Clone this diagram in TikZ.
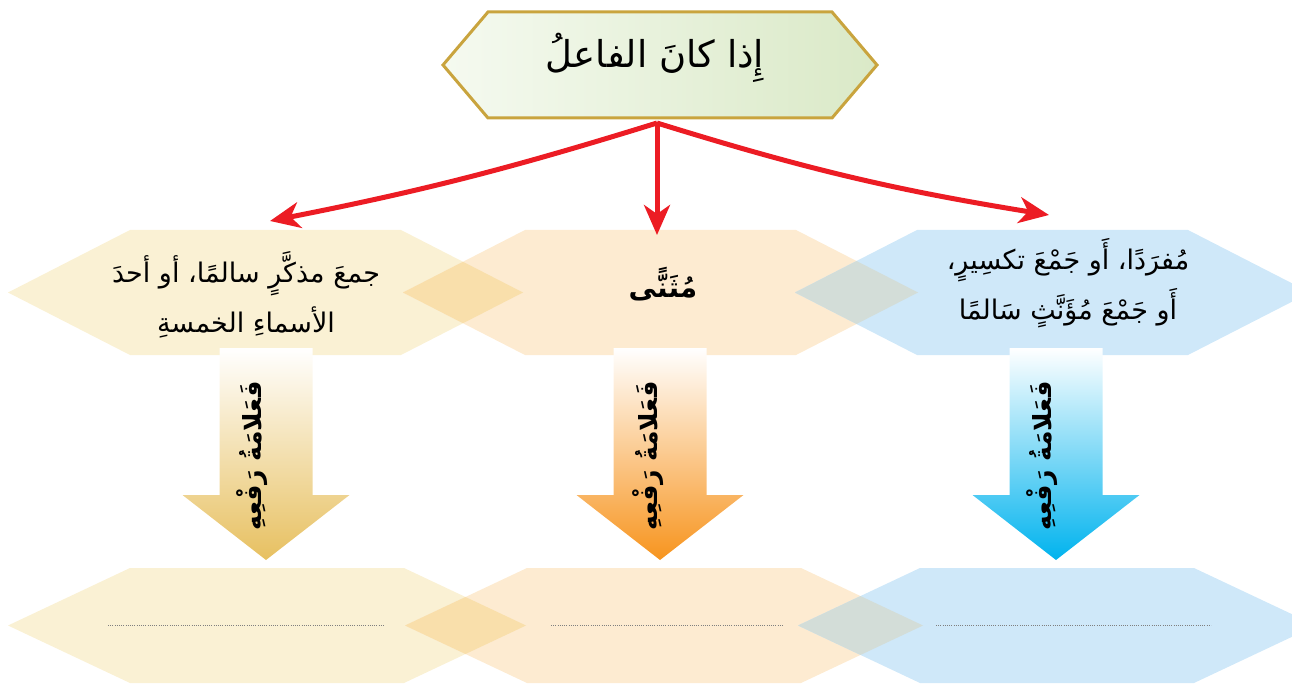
\documentclass[tikz,border=0pt]{standalone}
\usepackage{fontspec}
\usetikzlibrary{arrows.meta}
\newfontfamily\arabicfont[Script=Arabic]{DejaVu Sans}
\TeXXeTstate=1

\definecolor{hexyellow}{RGB}{250,241,212}
\definecolor{hexpeach}{RGB}{253,235,209}
\definecolor{hexblue}{RGB}{207,232,249}
\definecolor{mixyp}{RGB}{249,223,171}
\definecolor{mixpb}{RGB}{211,221,216}
\definecolor{boxgold}{RGB}{201,164,62}
\definecolor{boxleft}{RGB}{245,250,240}
\definecolor{boxright}{RGB}{218,233,199}
\definecolor{arrowred}{RGB}{236,28,36}
\definecolor{goldtip}{RGB}{231,192,96}
\definecolor{orangetip}{RGB}{247,148,30}
\definecolor{bluetip}{RGB}{0,179,238}

% hexagon: centre x, centre y, half width, half height, slant
\newcommand{\hexpath}[5]{(#1-#3,#2) -- (#1-#3+#5,#2-#4) -- (#1+#3-#5,#2-#4) -- (#1+#3,#2) -- (#1+#3-#5,#2+#4) -- (#1-#3+#5,#2+#4) -- cycle}
% fat downward arrow: centre x, colour at the tip
\newcommand{\rafarrow}[2]{\path[top color=white, bottom color=#2] (#1-46.5,348) -- (#1+46.5,348) -- (#1+46.5,495) -- (#1+83.5,495) -- (#1,560) -- (#1-83.5,495) -- (#1-46.5,495) -- cycle;}

\tikzset{
  hextext/.style={align=center, font=\arabicfont\fontsize{27}{50}\selectfont},
  rafa/.style={rotate=90, font=\arabicfont\bfseries\fontsize{25}{28}\selectfont},
  redarrow/.style={draw=arrowred, line width=5pt, -{Stealth[length=30pt,width=26pt,inset=9pt]}},
  dots/.style={draw=gray, line width=0.7pt, dash pattern=on 0.8pt off 1.4pt}
}

\begin{document}
\begin{tikzpicture}[x=1pt,y=-1pt]
  \useasboundingbox (0,0) rectangle (1292,684);
  \clip (0,0) rectangle (1292,684);

  % Top box
  \path[draw=boxgold, line width=3pt, left color=boxleft, right color=boxright] \hexpath{660}{65}{217}{53}{45};
  \node (cond) at (655,58) {\arabicfont\fontsize{37}{42}\selectfont\beginR إِذا كانَ الفاعلُ\endR};

  % Middle row
  \fill[hexyellow] \hexpath{265.5}{292.5}{257.5}{62.5}{122};
  \fill[hexpeach] \hexpath{660.5}{292.5}{257.5}{62.5}{122};
  \fill[hexblue] \hexpath{1052.5}{292.5}{257.5}{62.5}{122};
  \begin{scope}
    \clip \hexpath{265.5}{292.5}{257.5}{62.5}{122};
    \fill[mixyp] \hexpath{660.5}{292.5}{257.5}{62.5}{122};
  \end{scope}
  \begin{scope}
    \clip \hexpath{1052.5}{292.5}{257.5}{62.5}{122};
    \fill[mixpb] \hexpath{660.5}{292.5}{257.5}{62.5}{122};
  \end{scope}

  % Bottom row
  \fill[hexyellow] \hexpath{267}{625.5}{259}{57.5}{122};
  \fill[hexpeach] \hexpath{664}{625.5}{259}{57.5}{122};
  \fill[hexblue] \hexpath{1057}{625.5}{259}{57.5}{122};
  \begin{scope}
    \clip \hexpath{267}{625.5}{259}{57.5}{122};
    \fill[mixyp] \hexpath{664}{625.5}{259}{57.5}{122};
  \end{scope}
  \begin{scope}
    \clip \hexpath{1057}{625.5}{259}{57.5}{122};
    \fill[mixpb] \hexpath{664}{625.5}{259}{57.5}{122};
  \end{scope}

  % Down arrows
  \rafarrow{266}{goldtip}
  \rafarrow{660}{orangetip}
  \rafarrow{1056}{bluetip}

  % Texts
  \node[hextext] (jam) at (246,295) {\beginR جمعَ مذكَّرٍ سالمًا، أو أحدَ\endR\\\beginR الأسماءِ الخمسةِ\endR};
  \node (muth) at (663,284) {\arabicfont\bfseries\fontsize{28}{34}\selectfont\beginR مُثَنًّى\endR};
  \node[hextext] (mufrad) at (1068,283) {\beginR مُفرَدًا، أَو جَمْعَ تكسِيرٍ،\endR\\\beginR أَو جَمْعَ مُؤَنَّثٍ سَالمًا\endR};

  \node[rafa] (rafl) at (252,456) {\beginR فَعَلامَةُ رَفْعِهِ\endR};
  \node[rafa] (rafm) at (648,456) {\beginR فَعَلامَةُ رَفْعِهِ\endR};
  \node[rafa] (rafr) at (1042,456) {\beginR فَعَلامَةُ رَفْعِهِ\endR};

  % Answer lines
  \coordinate (al1) at (108,625); \coordinate (al2) at (385,625);
  \coordinate (am1) at (551,625); \coordinate (am2) at (783,625);
  \coordinate (ar1) at (936,625); \coordinate (ar2) at (1211,625);
  \draw[dots] (al1) -- (al2);
  \draw[dots] (am1) -- (am2);
  \draw[dots] (ar1) -- (ar2);

  % Red arrows
  \coordinate (src) at (657,123);
  \coordinate (tl) at (270,221);
  \coordinate (tm) at (657,235);
  \coordinate (tr) at (1049,215);
  \draw[redarrow] (src) to[bend left=3] (tl);
  \draw[redarrow] (src) -- (tm);
  \draw[redarrow] (src) to[bend right=4] (tr);
\end{tikzpicture}
\end{document}
